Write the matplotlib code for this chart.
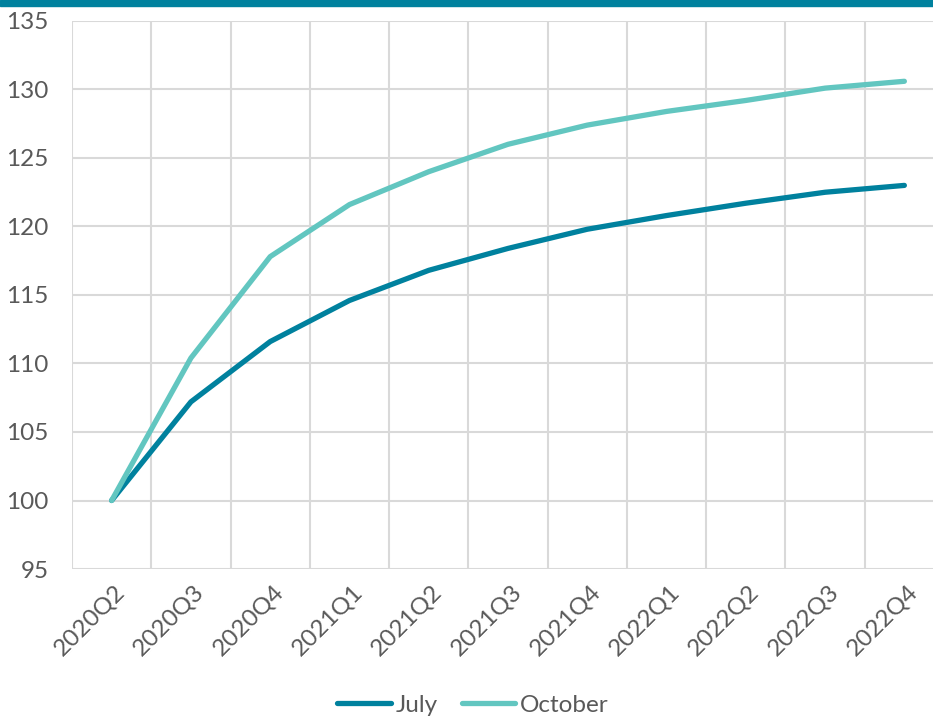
import numpy as np
import matplotlib.pyplot as plt
from matplotlib.patches import Rectangle
from matplotlib import transforms

# quarters and index values (2020Q2 = 100)
quarters = ['2020Q2', '2020Q3', '2020Q4', '2021Q1', '2021Q2', '2021Q3',
            '2021Q4', '2022Q1', '2022Q2', '2022Q3', '2022Q4']
july = [100, 107.2, 111.6, 114.6, 116.8, 118.4, 119.8, 120.8, 121.7, 122.5, 123.0]
october = [100, 110.4, 117.8, 121.6, 124.0, 126.0, 127.4, 128.4, 129.2, 130.1, 130.6]

c_july = '#00819E'
c_oct = '#62C6C0'
c_grid = '#D9D9D9'
c_text = '#595959'
fs = 17.5

plt.rcParams['font.family'] = ['Lato', 'DejaVu Sans']

W, H = 933, 718
fig = plt.figure(figsize=(W/100, H/100), dpi=100)

# plot area in pixels: left 72, right ~944 (runs past the edge), top 21, bottom 569
ax = fig.add_axes([72/W, (H-569)/H, (944-72)/W, (569-21)/H])

x = np.arange(len(quarters))
ax.plot(x, july, color=c_july, lw=3.8, solid_capstyle='round', solid_joinstyle='round', label='July')
ax.plot(x, october, color=c_oct, lw=3.8, solid_capstyle='round', solid_joinstyle='round', label='October')

ax.set_xlim(-0.5, len(quarters)-0.5)
ax.set_ylim(95, 135)
ax.set_yticks(np.arange(95, 136, 5))

# gridlines sit on category boundaries, labels at centres
ax.set_xticks(np.arange(-0.5, len(quarters), 1.0), minor=False)
ax.set_xticklabels([])
ax.set_xticks(x, minor=True)
ax.set_xticklabels(quarters, minor=True, rotation=45, ha='right', va='center',
                   rotation_mode='anchor', fontsize=fs, color=c_text)
ax.tick_params(axis='x', which='both', length=0)
ax.tick_params(axis='x', which='minor', pad=14)
ax.tick_params(axis='y', length=0, pad=17, labelsize=fs, labelcolor=c_text)
off = transforms.ScaledTranslation(10/100, 0, fig.dpi_scale_trans)
for lab in ax.get_xticklabels(minor=True):
    lab.set_transform(lab.get_transform() + off)

ax.grid(True, which='major', color=c_grid, lw=1.5)
ax.set_axisbelow(True)
for s in ax.spines.values():
    s.set_visible(False)

leg = fig.legend(loc='center', bbox_to_anchor=(473/W, 1-705/H), ncol=2, frameon=False,
                 fontsize=fs, handlelength=2.2, handletextpad=0.2, columnspacing=1.0)
for t in leg.get_texts():
    t.set_color(c_text)

# teal strip along the top
fig.patches.append(Rectangle((0, 1-6/H), 1, 6/H, transform=fig.transFigure,
                             color=c_july, zorder=5))

fig.savefig('out.png', dpi=100)
